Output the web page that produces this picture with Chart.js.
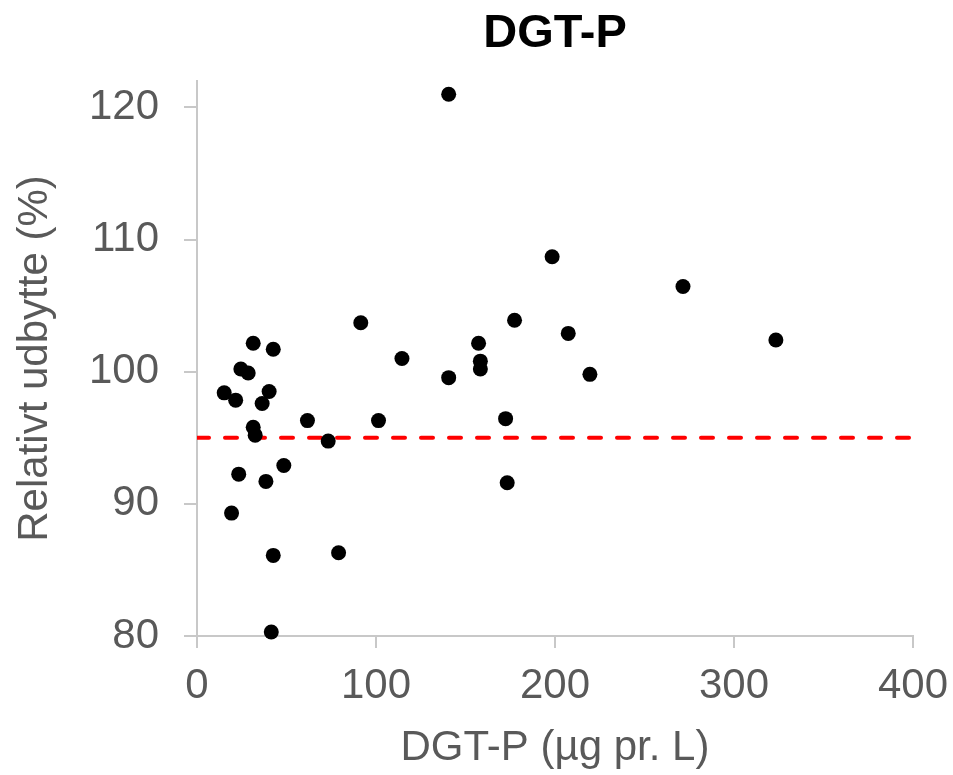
<!DOCTYPE html>
<html>
<head>
<meta charset="utf-8">
<title>DGT-P</title>
<script src="https://cdn.jsdelivr.net/npm/chart.js@4/dist/chart.umd.min.js"></script>
<style>
  html, body { margin: 0; padding: 0; background: #fff; }
  #chartCanvas { display: block; }
</style>
</head>
<body>
<canvas id="chartCanvas" width="953" height="775"></canvas>
<script>
// DGT-P concentration (x) and relative yield (y)
const dgtP = [15.2, 19.3, 21.6, 23.3, 24.5, 28.6, 31.4, 31.4, 32.5, 36.4,
              38.5, 40.3, 41.5, 42.6, 42.6, 48.5, 61.7, 73.3, 79.1, 91.5,
              101.4, 114.5, 140.6, 140.6, 157.3, 158.3, 158.3, 172.4, 173.3, 177.4,
              198.4, 207.4, 219.5, 271.5, 323.4];
const relYield = [98.4, 89.3, 97.85, 92.25, 100.2, 99.9, 102.15, 95.8, 95.2, 97.6,
                  91.7, 98.5, 80.3, 101.7, 86.1, 92.9, 96.3, 94.75, 86.3, 103.7,
                  96.3, 101.0, 121.0, 99.55, 102.15, 100.8, 100.2, 96.45, 91.6, 103.9,
                  108.7, 102.9, 99.8, 106.45, 102.4];
const thresholdY = 95;
const xTicks = [0, 100, 200, 300, 400];
const yTicks = [80, 90, 100, 110, 120];
const chartTitle = 'DGT-P';

const axisGray = '#c8c8c8';
const textGray = '#595959';
const fontFamily = "'Liberation Sans', Arial, sans-serif";

// title centred over the plot area (the built-in one centres over the whole canvas)
const plotTitle = {
    id: 'plotTitle',
    afterDraw(chart) {
        const {ctx, chartArea} = chart;
        ctx.save();
        ctx.font = 'bold 47px ' + fontFamily;
        ctx.fillStyle = '#000';
        ctx.textAlign = 'center';
        ctx.textBaseline = 'middle';
        ctx.fillText(chartTitle, (chartArea.left + chartArea.right) / 2, 34);
        ctx.restore();
    }
};

const chartCanvas = document.getElementById('chartCanvas');

const myChart = new Chart(chartCanvas, {
    type: 'scatter',
    data: {
        datasets: [{
            label: 'Relativt udbytte',
            data: dgtP.map((x, i) => ({x: x, y: relYield[i]})),
            backgroundColor: '#000',
            borderColor: '#000',
            pointRadius: 7.5,
            pointBorderWidth: 0,
            clip: false,
            order: 0
        }, {
            label: '95 %',
            type: 'line',
            data: [{x: xTicks[0], y: thresholdY}, {x: xTicks[xTicks.length - 1], y: thresholdY}],
            borderColor: '#ff0000',
            borderWidth: 4,
            borderDash: [12, 16],
            borderCapStyle: 'round',
            pointRadius: 0,
            fill: false,
            order: 1
        }]
    },
    options: {
        responsive: false,
        animation: false,
        layout: { padding: { left: 0, right: 40, top: 81, bottom: 0 } },
        plugins: {
            legend: { display: false },
            tooltip: { enabled: false },
            title: { display: false }
        },
        scales: {
            x: {
                type: 'linear',
                min: 0,
                max: 400,
                afterFit: (scale) => {
                    scale.height = 139;
                    scale.paddingRight = 0;
                    scale.paddingLeft = 0;
                },
                afterBuildTicks: (scale) => { scale.ticks = xTicks.map(v => ({value: v})); },
                border: { display: true, color: axisGray, width: 2 },
                grid: { drawOnChartArea: false, drawTicks: true, tickLength: 12, color: axisGray, lineWidth: 2 },
                ticks: { color: textGray, font: { family: fontFamily, size: 42 }, padding: 13, maxRotation: 0 },
                title: {
                    display: true,
                    text: 'DGT-P (µg pr. L)',
                    color: textGray,
                    font: { family: fontFamily, size: 42 },
                    padding: { top: 0, bottom: 1 }
                }
            },
            y: {
                type: 'linear',
                min: 80,
                max: 122,
                afterFit: (scale) => { scale.width = 197; },
                afterBuildTicks: (scale) => { scale.ticks = yTicks.map(v => ({value: v})); },
                border: { display: true, color: axisGray, width: 2 },
                grid: { drawOnChartArea: false, drawTicks: true, tickLength: 13, color: axisGray, lineWidth: 2 },
                ticks: { color: textGray, font: { family: fontFamily, size: 42 }, padding: 25 },
                title: {
                    display: true,
                    text: 'Relativt udbytte (%)',
                    color: textGray,
                    font: { family: fontFamily, size: 42 },
                    padding: { top: 10, bottom: 0 }
                }
            }
        }
    },
    plugins: [plotTitle]
});
</script>
</body>
</html>
